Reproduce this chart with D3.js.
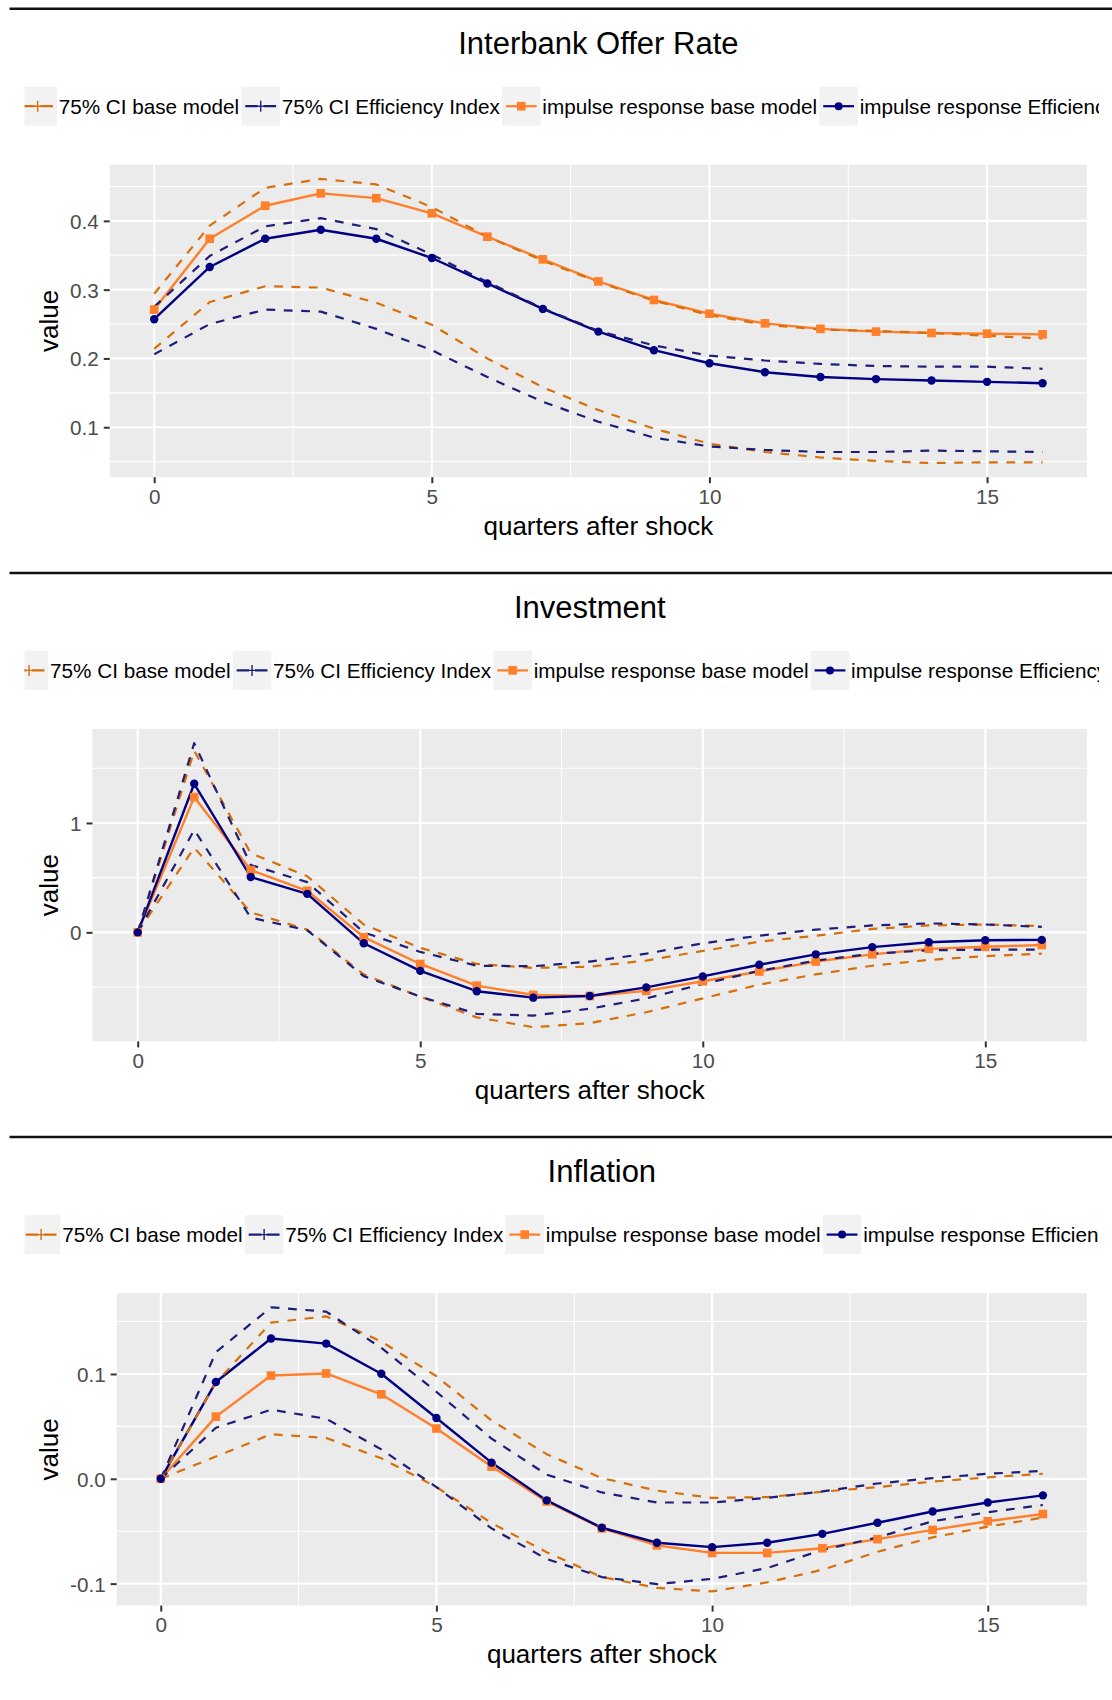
<!DOCTYPE html>
<html><head><meta charset="utf-8">
<script src="https://cdn.jsdelivr.net/npm/d3@7"></script>
<style>
body{margin:0;background:#fff}
svg{display:block}
text{font-family:"Liberation Sans",Arial,Helvetica,sans-serif}
</style>
</head><body>
<svg id="chart" width="1112" height="1700"></svg>
<script>
// ---------------- DATA ----------------
const quarters = [0,1,2,3,4,5,6,7,8,9,10,11,12,13,14,15,16];
const legendLabels = ["75% CI base model","75% CI Efficiency Index","impulse response base model","impulse response Efficiency Index"];
const xTicks = [0,5,10,15];
const xTickLabels = ["0","5","10","15"];
const xMinor = [2.5,7.5,12.5];

// Interbank Offer Rate
const iborTitle = "Interbank Offer Rate";
const iborIrBase  = [0.271,0.374,0.422,0.440,0.433,0.411,0.377,0.344,0.312,0.285,0.265,0.251,0.243,0.239,0.237,0.236,0.235];
const iborIrEff   = [0.257,0.333,0.374,0.387,0.374,0.346,0.309,0.272,0.239,0.212,0.193,0.180,0.173,0.170,0.168,0.166,0.164];
const iborCiBaseUp = [0.294,0.393,0.448,0.461,0.453,0.420,0.377,0.342,0.311,0.284,0.263,0.249,0.242,0.240,0.237,0.233,0.229];
const iborCiBaseLo = [0.214,0.282,0.305,0.303,0.281,0.249,0.200,0.158,0.125,0.098,0.076,0.064,0.056,0.051,0.048,0.049,0.049];
const iborCiEffUp  = [0.275,0.349,0.392,0.404,0.388,0.351,0.311,0.273,0.240,0.219,0.204,0.197,0.192,0.189,0.188,0.188,0.185];
const iborCiEffLo  = [0.206,0.250,0.271,0.268,0.243,0.212,0.173,0.137,0.108,0.085,0.072,0.067,0.064,0.064,0.066,0.065,0.064];
const iborYTicks = [0.1,0.2,0.3,0.4];
const iborYTickLabels = ["0.1","0.2","0.3","0.4"];
const iborYMinor = [0.05,0.15,0.25,0.35,0.45];

// Investment
const invTitle = "Investment";
const invIrBase  = [0,1.236,0.569,0.380,-0.044,-0.289,-0.487,-0.572,-0.582,-0.535,-0.447,-0.358,-0.267,-0.201,-0.151,-0.132,-0.116];
const invIrEff   = [0,1.358,0.506,0.352,-0.100,-0.352,-0.538,-0.597,-0.582,-0.503,-0.403,-0.296,-0.201,-0.135,-0.091,-0.072,-0.069];
const invCiBaseUp = [0,1.660,0.723,0.513,0.072,-0.142,-0.289,-0.325,-0.314,-0.258,-0.170,-0.085,-0.031,0.031,0.063,0.072,0.057];
const invCiBaseLo = [0,0.774,0.182,0.025,-0.384,-0.588,-0.777,-0.867,-0.830,-0.730,-0.604,-0.478,-0.384,-0.305,-0.252,-0.217,-0.195];
const invCiEffUp  = [0,1.730,0.616,0.459,0.000,-0.179,-0.305,-0.310,-0.267,-0.195,-0.100,-0.031,0.025,0.063,0.082,0.072,0.050];
const invCiEffLo  = [0,0.937,0.135,0.019,-0.400,-0.588,-0.745,-0.761,-0.698,-0.604,-0.472,-0.352,-0.258,-0.195,-0.164,-0.157,-0.157];
const invYTicks = [0,1];
const invYTickLabels = ["0","1"];
const invYMinor = [-0.5,0.5,1.5];

// Inflation
const infTitle = "Inflation";
const infIrBase  = [0,0.0593,0.0985,0.1005,0.0806,0.0480,0.0117,-0.0216,-0.0473,-0.0635,-0.0707,-0.0707,-0.0662,-0.0576,-0.0487,-0.0405,-0.0336];
const infIrEff   = [0,0.0923,0.1338,0.1290,0.1002,0.0580,0.0154,-0.0206,-0.0467,-0.0610,-0.0652,-0.0610,-0.0525,-0.0419,-0.0312,-0.0226,-0.0158];
const infCiBaseUp = [0,0.0916,0.1490,0.1550,0.1310,0.0978,0.0556,0.0235,0.0007,-0.0113,-0.0182,-0.0175,-0.0123,-0.0079,-0.0027,0.0014,0.0048];
const infCiBaseLo = [0,0.0213,0.0425,0.0390,0.0196,-0.0079,-0.0422,-0.0700,-0.0937,-0.1040,-0.1074,-0.0988,-0.0868,-0.0696,-0.0559,-0.0456,-0.0370];
const infCiEffUp  = [0,0.1208,0.1636,0.1595,0.1249,0.0830,0.0384,0.0040,-0.0130,-0.0226,-0.0226,-0.0182,-0.0120,-0.0045,0.0007,0.0048,0.0075];
const infCiEffLo  = [0,0.0487,0.0659,0.0573,0.0281,-0.0079,-0.0473,-0.0765,-0.0937,-0.1005,-0.0954,-0.0851,-0.0679,-0.0559,-0.0405,-0.0319,-0.0250];
const infYTicks = [-0.1,0,0.1];
const infYTickLabels = ["-0.1","0.0","0.1"];
const infYMinor = [-0.05,0.05,0.15];

// ---------------- STYLE ----------------
const COL = {ciBase:"#D6700C", ciEff:"#1E1E78", irBase:"#FF7F2A", irEff:"#000080"};
const FONT = '"Liberation Sans", Arial, Helvetica, sans-serif';
const TITLE_SIZE = 31, LEG_SIZE = 20.7, TICK_SIZE = 20.7, AXT_SIZE = 26;
const S0 = 8.7, PLOT_H = 564.2;

const panels = [
  {title:iborTitle, irBase:iborIrBase, irEff:iborIrEff, ciBaseUp:iborCiBaseUp, ciBaseLo:iborCiBaseLo, ciEffUp:iborCiEffUp, ciEffLo:iborCiEffLo, yTicks:iborYTicks, yLabels:iborYTickLabels, yMinor:iborYMinor},
  {title:invTitle, irBase:invIrBase, irEff:invIrEff, ciBaseUp:invCiBaseUp, ciBaseLo:invCiBaseLo, ciEffUp:invCiEffUp, ciEffLo:invCiEffLo, yTicks:invYTicks, yLabels:invYTickLabels, yMinor:invYMinor},
  {title:infTitle, irBase:infIrBase, irEff:infIrEff, ciBaseUp:infCiBaseUp, ciBaseLo:infCiBaseLo, ciEffUp:infCiEffUp, ciEffLo:infCiEffLo, yTicks:infYTicks, yLabels:infYTickLabels, yMinor:infYMinor}
];

const svg = d3.select("#chart");
svg.append("rect").attr("width",1112).attr("height",1700).attr("fill","#fff");

function measure(txt, size){
  const t = svg.append("text").attr("font-size",size).style("font-family",FONT).text(txt);
  const w = t.node().getComputedTextLength(); t.remove(); return w;
}

const defs = svg.append("defs");
defs.append("clipPath").attr("id","legclip").append("rect")
  .attr("x",24.5).attr("y",0).attr("width",1099-24.5).attr("height",1700);

panels.forEach((p, i) => {
  const S = S0 + i*PLOT_H;
  const g = svg.append("g");

  // separator line
  g.append("line").attr("x1",9.5).attr("x2",1112).attr("y1",S).attr("y2",S)
    .attr("stroke","#111").attr("stroke-width",2.5);

  const labW = d3.max(p.yLabels, s => measure(s, TICK_SIZE));
  const left = 81 + labW, right = 1087, top = S + 156, bottom = S + 468.5;
  const cx = (left + right) / 2;

  const xExt = d3.extent(quarters), xPad = (xExt[1]-xExt[0])*0.05;
  const x = d3.scaleLinear().domain([xExt[0]-xPad, xExt[1]+xPad]).range([left, right]);
  const allV = [].concat(p.irBase, p.irEff, p.ciBaseUp, p.ciBaseLo, p.ciEffUp, p.ciEffLo);
  const yExt = d3.extent(allV), yPad = (yExt[1]-yExt[0])*0.05;
  const y = d3.scaleLinear().domain([yExt[0]-yPad, yExt[1]+yPad]).range([bottom, top]);

  // title
  g.append("text").attr("x",cx).attr("y",S+44.8).attr("text-anchor","middle")
    .attr("font-size",TITLE_SIZE).attr("fill","#000").text(p.title);

  // legend
  const lg = g.append("g").attr("clip-path","url(#legclip)");
  const KW = 38.5, KH = 39, KGAP = 1.8, IGAP = 2.2;
  const ly = S + 97.5;
  let lx = cx - 580;
  const keyDefs = [
    {col:COL.ciBase, dash:true, shape:"plus"},
    {col:COL.ciEff, dash:true, shape:"plus"},
    {col:COL.irBase, dash:false, shape:"square"},
    {col:COL.irEff, dash:false, shape:"circle"}
  ];
  legendLabels.forEach((lab, k) => {
    const kd = keyDefs[k];
    lg.append("rect").attr("x",lx).attr("y",ly-KH/2).attr("width",KW).attr("height",KH).attr("fill","#F2F2F2");
    lg.append("line").attr("x1",lx+KW*0.1).attr("x2",lx+KW*0.9).attr("y1",ly).attr("y2",ly)
      .attr("stroke",kd.col).attr("stroke-width",2.2)
      .attr("stroke-dasharray",kd.dash?"12.4,6,20":null);
    const kx = lx + KW/2;
    if (kd.shape==="plus"){
      lg.append("line").attr("x1",kx).attr("x2",kx).attr("y1",ly-5.5).attr("y2",ly+5.5)
        .attr("stroke",kd.col).attr("stroke-width",1.4);
      lg.append("line").attr("x1",kx-4.5).attr("x2",kx+4.5).attr("y1",ly).attr("y2",ly)
        .attr("stroke",kd.col).attr("stroke-width",1.4);
    } else if (kd.shape==="square"){
      lg.append("rect").attr("x",kx-4.3).attr("y",ly-4.3).attr("width",8.6).attr("height",8.6).attr("fill",kd.col);
    } else {
      lg.append("circle").attr("cx",kx).attr("cy",ly).attr("r",4).attr("fill",kd.col);
    }
    const t = lg.append("text").attr("x",lx+KW+KGAP).attr("y",ly+7.6)
      .attr("font-size",LEG_SIZE).attr("fill","#000").text(lab);
    lx += KW + KGAP + t.node().getComputedTextLength() + IGAP;
  });

  // panel background
  g.append("rect").attr("x",left).attr("y",top).attr("width",right-left).attr("height",bottom-top).attr("fill","#EBEBEB");

  // minor grid
  const [y0,y1] = y.domain();
  g.selectAll(null).data(p.yMinor.filter(v=>v>=y0&&v<=y1)).enter().append("line")
    .attr("x1",left).attr("x2",right).attr("y1",d=>y(d)).attr("y2",d=>y(d))
    .attr("stroke","#fff").attr("stroke-width",1.1);
  g.selectAll(null).data(xMinor).enter().append("line")
    .attr("y1",top).attr("y2",bottom).attr("x1",d=>x(d)).attr("x2",d=>x(d))
    .attr("stroke","#fff").attr("stroke-width",1.1);
  // major grid
  g.selectAll(null).data(p.yTicks).enter().append("line")
    .attr("x1",left).attr("x2",right).attr("y1",d=>y(d)).attr("y2",d=>y(d))
    .attr("stroke","#fff").attr("stroke-width",2.2);
  g.selectAll(null).data(xTicks).enter().append("line")
    .attr("y1",top).attr("y2",bottom).attr("x1",d=>x(d)).attr("x2",d=>x(d))
    .attr("stroke","#fff").attr("stroke-width",2.2);

  // axes
  const xAxis = d3.axisBottom(x).tickValues(xTicks).tickFormat((d,j)=>xTickLabels[j])
    .tickSize(6).tickSizeOuter(0).tickPadding(5.9);
  const xa = g.append("g").attr("transform",`translate(0,${bottom})`).call(xAxis);
  const yAxis = d3.axisLeft(y).tickValues(p.yTicks).tickFormat((d,j)=>p.yLabels[j])
    .tickSize(6).tickSizeOuter(0).tickPadding(5);
  const ya = g.append("g").attr("transform",`translate(${left},0)`).call(yAxis);
  [xa, ya].forEach(a => {
    a.select(".domain").remove();
    a.selectAll(".tick line").attr("stroke","#333").attr("stroke-width",2);
    a.selectAll(".tick text").attr("fill","#4D4D4D").attr("font-size",TICK_SIZE).style("font-family",FONT);
  });
  ya.selectAll(".tick text").attr("dy","0.36em");

  // axis titles
  g.append("text").attr("x",cx).attr("y",S+526).attr("text-anchor","middle")
    .attr("font-size",AXT_SIZE).attr("fill","#000").text("quarters after shock");
  g.append("text").attr("transform",`translate(58,${(top+bottom)/2}) rotate(-90)`)
    .attr("text-anchor","middle").attr("font-size",AXT_SIZE).attr("fill","#000").text("value");

  // lines
  const line = d3.line().x((d,j)=>x(quarters[j])).y(d=>y(d));
  const drawLine = (arr, col, dash, w) => g.append("path").datum(arr).attr("d",line)
    .attr("fill","none").attr("stroke",col).attr("stroke-width",w)
    .attr("stroke-linejoin","round").attr("stroke-dasharray",dash?"8.8,8.6":null);
  drawLine(p.irBase, COL.irBase, false, 2.4);
  drawLine(p.irEff, COL.irEff, false, 2.4);
  drawLine(p.ciBaseUp, COL.ciBase, true, 2.2);
  drawLine(p.ciBaseLo, COL.ciBase, true, 2.2);
  drawLine(p.ciEffUp, COL.ciEff, true, 2.2);
  drawLine(p.ciEffLo, COL.ciEff, true, 2.2);

  // points
  g.selectAll(null).data(p.irBase).enter().append("rect")
    .attr("x",(d,j)=>x(quarters[j])-4.3).attr("y",d=>y(d)-4.3)
    .attr("width",8.6).attr("height",8.6).attr("fill",COL.irBase);
  g.selectAll(null).data(p.irEff).enter().append("circle")
    .attr("cx",(d,j)=>x(quarters[j])).attr("cy",d=>y(d)).attr("r",4.2).attr("fill",COL.irEff);
});
</script>
</body></html>
